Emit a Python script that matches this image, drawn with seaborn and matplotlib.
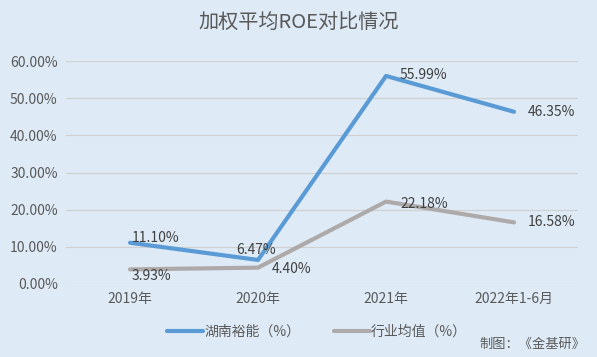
import matplotlib
matplotlib.use('Agg')
import matplotlib.pyplot as plt
import pandas as pd
import seaborn as sns

# ============================================================
# Data
# ============================================================
periods = ['2019年', '2020年', '2021年', '2022年1-6月']
hunan_yuneng = [11.10, 6.47, 55.99, 46.35]
industry_avg = [3.93, 4.40, 22.18, 16.58]
series_names = ['湖南裕能（%）', '行业均值（%）']
y_ticks = [0, 10, 20, 30, 40, 50, 60]

df = pd.DataFrame({
    'period': periods * 2,
    'roe': hunan_yuneng + industry_avg,
    'series': [series_names[0]] * 4 + [series_names[1]] * 4,
})

BG = '#DEEBF7'
BLUE = '#5B9BD5'
GRAY = '#AEAAAA'
TXT = '#404040'

sns.set_theme(style='white')
plt.rcParams['font.family'] = ['Noto Sans CJK SC', 'DejaVu Sans']

fig = plt.figure(figsize=(5.97, 3.57), dpi=100, facecolor=BG)
ax = fig.add_axes([0.1106, 0.2045, 0.8576, 0.6245], facecolor=BG)

sns.lineplot(data=df, x='period', y='roe', hue='series',
             palette=[BLUE, GRAY], linewidth=3, ax=ax, sort=False,
             legend=True)

ax.set_xlim(-0.5, 3.5)
ax.set_ylim(0, 60)
ax.set_yticks(y_ticks)
ax.set_yticklabels([f'{v:.2f}%' for v in y_ticks])
ax.yaxis.grid(True, color='#D0D0D0', linewidth=0.9)
ax.set_axisbelow(True)
for s in ax.spines.values():
    s.set_visible(False)
ax.tick_params(axis='both', length=0, labelsize=10, colors='#595959', pad=6)
ax.set_xlabel('')
ax.set_ylabel('')

# Data labels (offsets in pixels)
offsets_blue = [(2, 5), (-22, 10), (14, 1), (14, 0)]
offsets_gray = [(2, -7), (14, -1), (14, -2), (14, 0)]
for i, (v, off) in enumerate(zip(hunan_yuneng, offsets_blue)):
    ax.annotate(f'{v:.2f}%', (i, v), xytext=off, textcoords='offset pixels',
                fontsize=10, color=TXT, ha='left', va='center')
for i, (v, off) in enumerate(zip(industry_avg, offsets_gray)):
    ax.annotate(f'{v:.2f}%', (i, v), xytext=off, textcoords='offset pixels',
                fontsize=10, color=TXT, ha='left', va='center')

# Legend
handles, labels = ax.get_legend_handles_labels()
leg = ax.legend(handles, labels, loc='center', bbox_to_anchor=(0.49, -0.215),
                ncol=2, frameon=False, fontsize=10, handlelength=2.6,
                handletextpad=0.1, columnspacing=2.4, labelcolor='#595959')
for h in leg.get_lines():
    h.set_linewidth(3)

fig.text(0.5, 0.935, '加权平均ROE对比情况', ha='center', va='center',
         fontsize=14.5, color='#595959')
fig.text(0.98, 0.035, '制图：《金基研》', ha='right', va='center',
         fontsize=9.5, color='#595959')

fig.savefig('out.png', dpi=100, facecolor=BG)
